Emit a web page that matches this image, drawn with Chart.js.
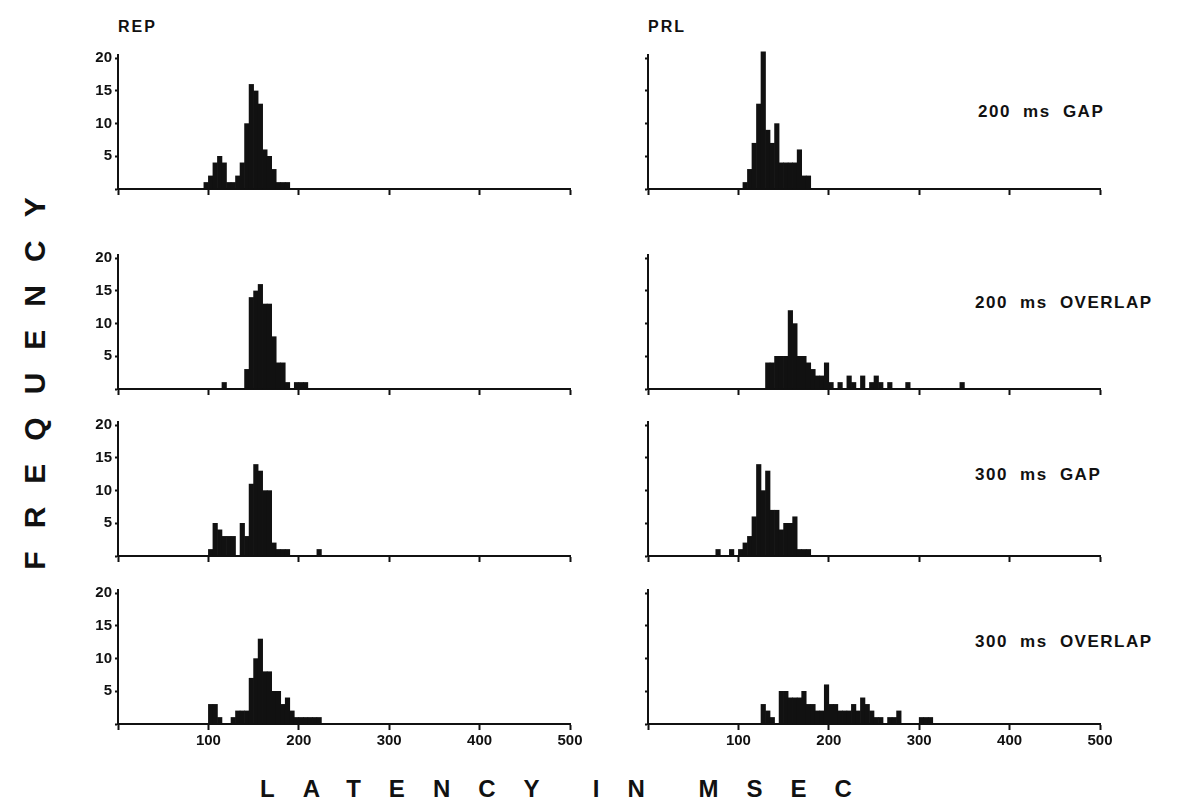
<!DOCTYPE html>
<html>

<head>
  <title>Latency histograms</title>
  <style>
    body { margin: 0; background: #fff; }
    #page { position: relative; width: 1189px; height: 802px; overflow: hidden; background: #fff;
      font-family: "Liberation Sans", Arial, sans-serif; font-weight: bold; color: #111; }
    #page canvas { position: absolute; }
    .txt { position: absolute; white-space: nowrap; }
    .head { font-size: 16px; letter-spacing: 2px; }
    .cond { font-size: 17px; letter-spacing: 1.5px; word-spacing: 6px; }
  </style>
</head>

<body>
  <div id="page">
    <div class="txt head" style="left:118px; top:18px;">REP</div>
    <div class="txt head" style="left:648px; top:18px;">PRL</div>
    <div class="txt cond" style="left:978px; top:102px;">200 ms GAP</div>
    <div class="txt cond" style="left:975px; top:293px;">200 ms OVERLAP</div>
    <div class="txt cond" style="left:975px; top:465px;">300 ms GAP</div>
    <div class="txt cond" style="left:975px; top:632px;">300 ms OVERLAP</div>
    <div class="txt" style="left:35px; top:372px; font-size:30px; letter-spacing:23px;
      transform: translate(-50%, -50%) rotate(-90deg);">FREQUENCY</div>
    <div class="txt" style="left:260px; top:775px; font-size:24px; letter-spacing:28px; word-spacing:-9px;">LATENCY IN MSEC</div>
  </div>
  <script src="https://cdn.jsdelivr.net/npm/chart.js"></script>
  <script>
    // 5 ms bins, counts, each list starts at the given latency
    const binWidth = 5;
    const latencyTicks = [0, 100, 200, 300, 400, 500];
    const freqTicks = [5, 10, 15, 20];

    const repGap200Start = 95;
    const repGap200 = [1, 2, 4, 5, 4, 1, 1, 2, 4, 10, 16, 15, 13, 6, 5, 3, 1, 1, 1];
    const prlGap200Start = 105;
    const prlGap200 = [1, 3, 7, 13, 21, 9, 7, 10, 4, 4, 4, 4, 6, 2, 2];

    const repOverlap200Start = 115;
    const repOverlap200 = [1, 0, 0, 0, 0, 3, 14, 15, 16, 13, 13, 8, 4, 4, 1, 0, 1, 1, 1];
    const prlOverlap200Start = 130;
    const prlOverlap200 = [4, 4, 5, 5, 5, 12, 10, 5, 5, 4, 3, 2, 2, 4, 1, 0, 1, 0, 2, 1, 0, 2,
      0, 1, 2, 1, 0, 1, 0, 0, 0, 1, 0, 0, 0, 0, 0, 0, 0, 0, 0, 0, 0, 1];

    const repGap300Start = 100;
    const repGap300 = [1, 5, 4, 3, 3, 3, 0, 5, 3, 11, 14, 13, 10, 10, 2, 1, 1, 1, 0, 0, 0, 0, 0, 0, 1];
    const prlGap300Start = 75;
    const prlGap300 = [1, 0, 0, 1, 0, 1, 2, 3, 6, 14, 10, 13, 7, 7, 4, 5, 5, 6, 1, 1, 1];

    const repOverlap300Start = 100;
    const repOverlap300 = [3, 3, 1, 0, 0, 1, 2, 2, 2, 7, 10, 13, 8, 8, 5, 5, 3, 4, 2, 1, 1, 1, 1, 1, 1];
    const prlOverlap300Start = 125;
    const prlOverlap300 = [3, 2, 1, 0, 5, 5, 4, 4, 4, 5, 3, 3, 2, 2, 6, 3, 3, 2, 2, 2,
      3, 2, 4, 3, 2, 1, 1, 0, 1, 1, 2, 0, 0, 0, 0, 1, 1, 1];

    // panel placement: canvas top-left; plot area starts 40px right, 10px down
    const panels = [
      { counts: repGap200, start: repGap200Start, left: 78, top: 43, yLabels: true, xLabels: false },
      { counts: prlGap200, start: prlGap200Start, left: 608, top: 43, yLabels: false, xLabels: false },
      { counts: repOverlap200, start: repOverlap200Start, left: 78, top: 243, yLabels: true, xLabels: false },
      { counts: prlOverlap200, start: prlOverlap200Start, left: 608, top: 243, yLabels: false, xLabels: false },
      { counts: repGap300, start: repGap300Start, left: 78, top: 410, yLabels: true, xLabels: false },
      { counts: prlGap300, start: prlGap300Start, left: 608, top: 410, yLabels: false, xLabels: false },
      { counts: repOverlap300, start: repOverlap300Start, left: 78, top: 578, yLabels: true, xLabels: true },
      { counts: prlOverlap300, start: prlOverlap300Start, left: 608, top: 578, yLabels: false, xLabels: true }
    ];

    const ink = '#111';
    const tickFont = { family: '"Liberation Sans", Arial, sans-serif', size: 15, weight: 'bold' };

    function makePanel(p) {
      const canvas = document.createElement('canvas');
      canvas.width = 512;
      canvas.height = 176;
      canvas.style.left = p.left + 'px';
      canvas.style.top = p.top + 'px';
      document.getElementById('page').appendChild(canvas);

      const points = p.counts.map((c, i) => ({ x: p.start + i * binWidth + binWidth / 2, y: c }));

      new Chart(canvas.getContext('2d'), {
        type: 'bar',
        data: {
          datasets: [{
            data: points,
            backgroundColor: ink,
            borderWidth: 0,
            barPercentage: 1,
            categoryPercentage: 1,
            clip: false
          }]
        },
        options: {
          responsive: false,
          animation: false,
          layout: { padding: { top: 10, right: 20, left: 0, bottom: 0 } },
          plugins: { legend: { display: false }, tooltip: { enabled: false } },
          scales: {
            x: {
              type: 'linear',
              min: 0,
              max: 500,
              offset: false,
              afterBuildTicks: s => { s.ticks = latencyTicks.map(v => ({ value: v })); },
              afterFit: s => { s.height = 30; },
              border: { color: ink, width: 2 },
              grid: { offset: false, drawOnChartArea: false, tickLength: 6, tickColor: ink, tickWidth: 2 },
              ticks: {
                color: ink,
                font: tickFont,
                padding: 2,
                maxRotation: 0,
                callback: v => (p.xLabels && v !== 0) ? String(v) : ''
              }
            },
            y: {
              min: 0,
              max: 20.5,
              afterBuildTicks: s => { s.ticks = [0].concat(freqTicks).map(v => ({ value: v })); },
              afterFit: s => { s.width = 40; },
              border: { color: ink, width: 2 },
              grid: { drawOnChartArea: false, tickLength: 3, tickColor: ink, tickWidth: 2 },
              ticks: {
                color: ink,
                font: tickFont,
                padding: 3,
                callback: v => (p.yLabels && v !== 0) ? String(v) : ''
              }
            }
          }
        }
      });
    }

    panels.forEach(makePanel);
  </script>
</body>

</html>
